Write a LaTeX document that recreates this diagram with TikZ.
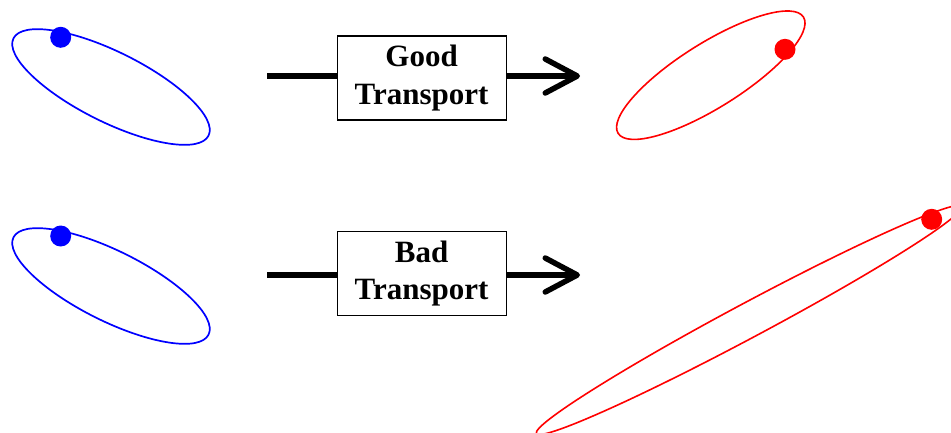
\documentclass[tikz,border=0pt]{standalone}
\usepackage{fontspec}
\setmainfont{Liberation Serif}
\usetikzlibrary{arrows.meta}
\tikzset{
  orbitB/.style={draw=blue, line width=1.7pt},
  orbitR/.style={draw=red, line width=1.6pt},
  particle/.style={circle, inner sep=0pt, minimum size=21pt},
  tbox/.style={draw, line width=1.2pt, minimum width=169pt, minimum height=84pt,
    inner sep=0pt, align=center, font=\bfseries\fontsize{31}{37.3}\selectfont},
  flow/.style={line width=5.5pt},
  flowarrow/.style={flow, -{Straight Barb[length=32pt, width=34pt, round]}}
}
\begin{document}
\begin{tikzpicture}[x=1pt, y=-1pt]
\useasboundingbox (0,0) rectangle (951,432);
\clip (0,0) rectangle (951,432);
% ----- top row (good transport)
\draw[orbitB, rotate around={-26.5:(111,87)}] (111,87) ellipse [x radius=109pt, y radius=35pt];
\node[particle, fill=blue] (p1) at (60.7,37.3) {};
\node[tbox] (good) at (421.6,78) {Good\\Transport};
\coordinate (in1) at (267,76);
\coordinate (out1) at (580,76);
\draw[flow] (in1) -- (in1 -| good.west);
\draw[flowarrow] (good.east |- out1) -- (out1);
\draw[orbitR, rotate around={32.1:(710.8,75.2)}] (710.8,75.2) ellipse [x radius=109.4pt, y radius=32.2pt];
\node[particle, fill=red] (p2) at (785,49.3) {};
% ----- bottom row (bad transport)
\draw[orbitB, rotate around={-26.5:(111,286)}] (111,286) ellipse [x radius=109pt, y radius=35pt];
\node[particle, fill=blue] (p3) at (60.7,236) {};
\node[tbox] (bad) at (421.6,273.7) {Bad\\Transport};
\coordinate (in2) at (267,275);
\coordinate (out2) at (580,275);
\draw[flow] (in2) -- (in2 -| bad.west);
\draw[flowarrow] (bad.east |- out2) -- (out2);
\draw[orbitR, rotate around={28.1:(749,320)}] (749,320) ellipse [x radius=241pt, y radius=17.2pt];
\node[particle, fill=red] (p4) at (931.7,219.3) {};
\end{tikzpicture}
\end{document}
